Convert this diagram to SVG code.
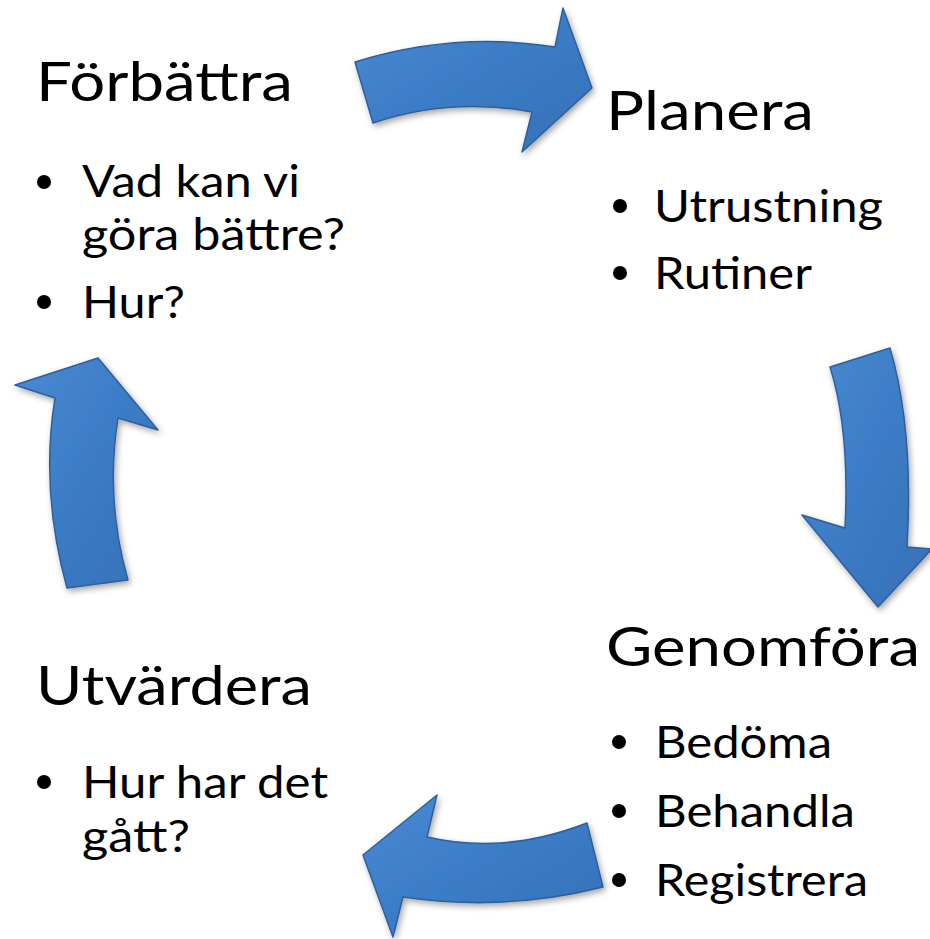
<svg xmlns="http://www.w3.org/2000/svg" width="930" height="939" viewBox="0 0 930 939">
<style>
.t{font-family:Lato,"Open Sans","Liberation Sans",sans-serif;fill:#000}
.h{font-size:54px}
.b{font-size:45px}
.arr{fill:url(#g);stroke:#2c609e;stroke-width:1.5;stroke-linejoin:round;filter:url(#sh)}
</style>
<defs>
<linearGradient id="g" x1="0" y1="0" x2="1" y2="1">
<stop offset="0" stop-color="#4a8ad2"/>
<stop offset="0.5" stop-color="#3b7cc6"/>
<stop offset="1" stop-color="#3570b6"/>
</linearGradient>
<filter id="sh" x="-20%" y="-20%" width="140%" height="140%">
<feDropShadow dx="2" dy="3" stdDeviation="3" flood-color="#000" flood-opacity="0.35"/>
</filter>
</defs>
<g id="connectors">
<path class="arr" d="M355,62 Q455,31 555,47 L563,8 L592,88 L522,152 L532,112 Q450,97 373,123 Z"/>
<path class="arr" d="M830,367 L890,348 Q914,430 907,547 L932,549 L878,607 L802,515 L845,528 Q850,430 830,367 Z"/>
<path class="arr" d="M587,823 Q505,855 427,837 L437,795 L363,855 L393,937 L403,897 Q505,912 603,887 Z"/>
<path class="arr" d="M67,588 Q40,490 55,398 L15,385 L98,358 L158,430 L118,418 Q105,500 128,580 Z"/>
</g>
<g id="forbattra">
<text class="t h" x="36" y="101" textLength="257" lengthAdjust="spacingAndGlyphs">Förbättra</text>
<circle cx="44" cy="182" r="7"/>
<text class="t b" x="82" y="197" textLength="218" lengthAdjust="spacingAndGlyphs">Vad kan vi</text>
<text class="t b" x="82" y="250" textLength="263" lengthAdjust="spacingAndGlyphs">göra bättre?</text>
<circle cx="44" cy="302" r="7"/>
<text class="t b" x="82" y="318" textLength="103" lengthAdjust="spacingAndGlyphs">Hur?</text>
</g>
<g id="planera">
<text class="t h" x="606" y="130" textLength="208" lengthAdjust="spacingAndGlyphs">Planera</text>
<circle cx="620" cy="206" r="7"/>
<text class="t b" x="654" y="222" textLength="229" lengthAdjust="spacingAndGlyphs">Utrustning</text>
<circle cx="620" cy="273" r="7"/>
<text class="t b" x="654" y="289" textLength="158" lengthAdjust="spacingAndGlyphs">Rutiner</text>
</g>
<g id="genomfora">
<text class="t h" x="606" y="666" textLength="314" lengthAdjust="spacingAndGlyphs">Genomföra</text>
<circle cx="619" cy="742" r="7"/>
<text class="t b" x="655" y="758" textLength="177" lengthAdjust="spacingAndGlyphs">Bedöma</text>
<circle cx="619" cy="811" r="7"/>
<text class="t b" x="655" y="827" textLength="200" lengthAdjust="spacingAndGlyphs">Behandla</text>
<circle cx="619" cy="880" r="7"/>
<text class="t b" x="655" y="896" textLength="213" lengthAdjust="spacingAndGlyphs">Registrera</text>
</g>
<g id="utvardera">
<text class="t h" x="36" y="705" textLength="276" lengthAdjust="spacingAndGlyphs">Utvärdera</text>
<circle cx="44" cy="782" r="7"/>
<text class="t b" x="82" y="798" textLength="246" lengthAdjust="spacingAndGlyphs">Hur har det</text>
<text class="t b" x="82" y="852" textLength="108" lengthAdjust="spacingAndGlyphs">gått?</text>
</g>
</svg>
